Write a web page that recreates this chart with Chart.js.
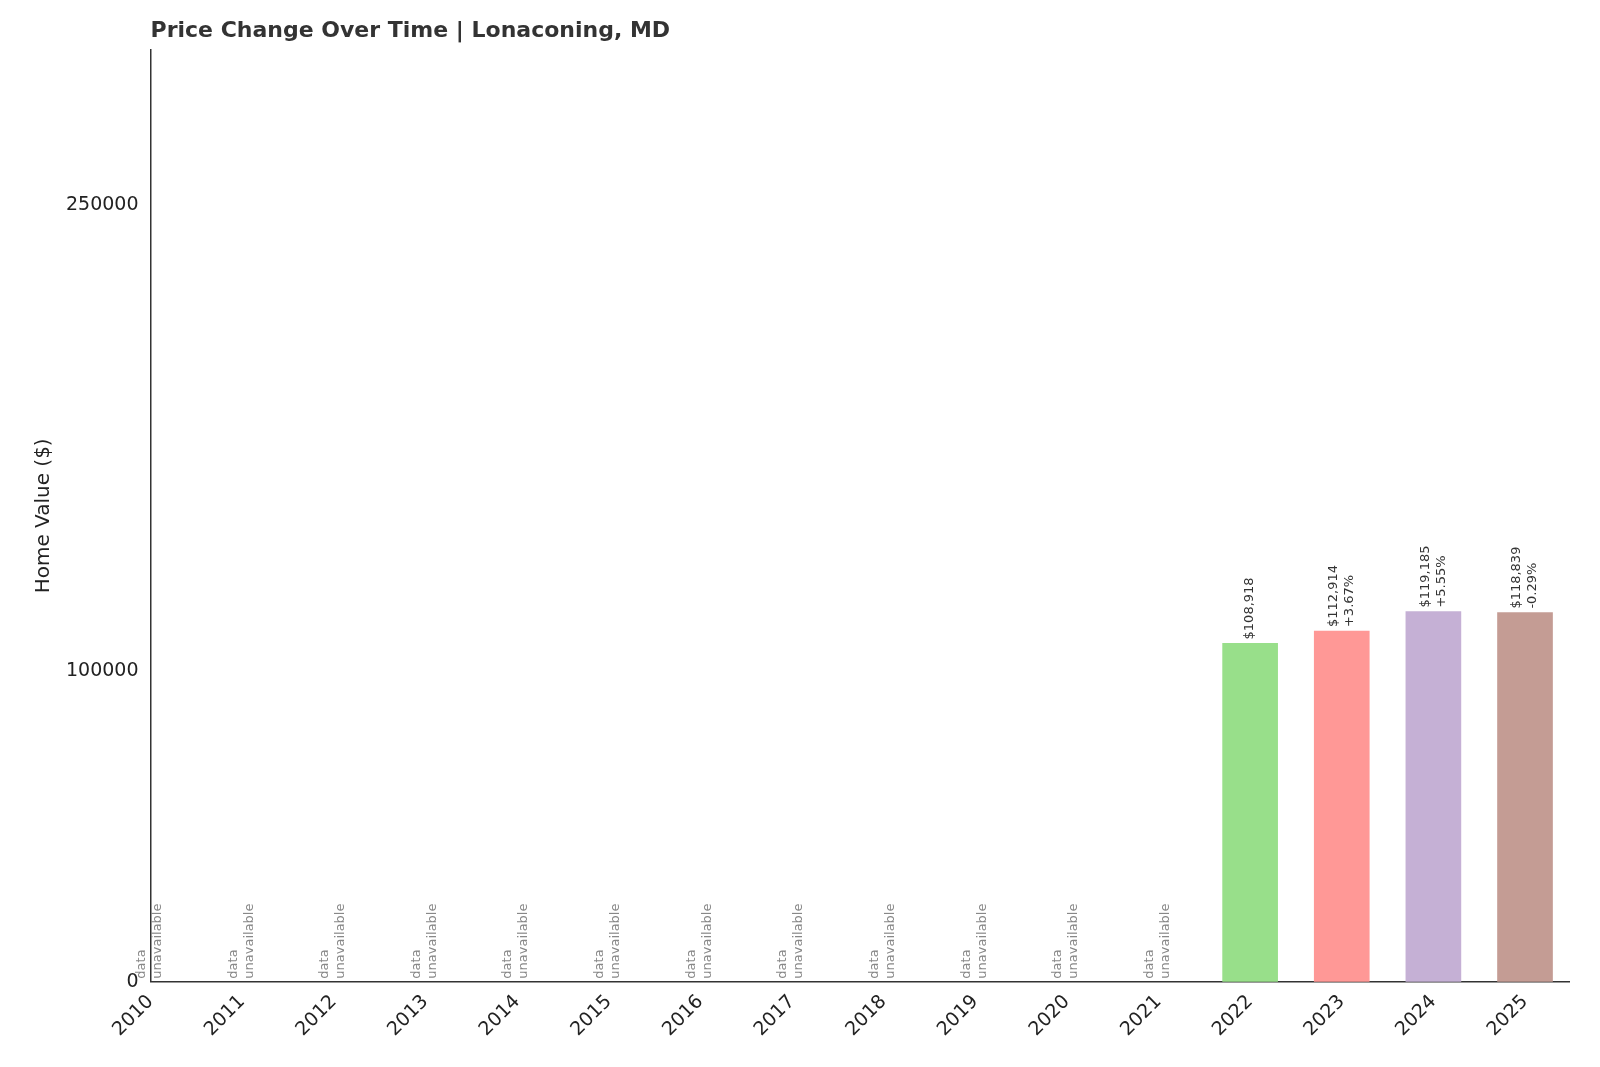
<!DOCTYPE html>
<html><head><meta charset="utf-8">
<script src="https://cdn.jsdelivr.net/npm/chart.js@4"></script>
<style>body{margin:0;background:#fff}#w{width:1600px;height:1067px}</style>
</head><body><div id="w"><canvas id="c"></canvas></div>
<script>
const years=[2010,2011,2012,2013,2014,2015,2016,2017,2018,2019,2020,2021,2022,2023,2024,2025];
const values=[null,null,null,null,null,null,null,null,null,null,null,null,108918,112914,119185,118839];
const changes=[null,null,null,null,null,null,null,null,null,null,null,null,null,"+3.67%","+5.55%","-0.29%"];
const barColors=["#98df8a","#98df8a","#98df8a","#98df8a","#98df8a","#98df8a","#98df8a","#98df8a","#98df8a","#98df8a","#98df8a","#98df8a","#98df8a","#ff9896","#c5b0d5","#c49c94"];
const yTicks=[0,100000,250000];
const F="DejaVu Sans";
const labels={id:'lbl',afterDatasetsDraw(ch){
  const c=ch.ctx,x=ch.scales.x,y=ch.scales.y;
  c.save();c.fillStyle='#333';c.font='bold 22px '+F;c.textAlign='left';c.textBaseline='middle';
  c.fillText('Price Change Over Time | Lonaconing, MD',ch.chartArea.left,31);c.restore();
  years.forEach((yr,i)=>{
    const px=x.getPixelForValue(yr);
    c.save();
    if(values[i]==null){
      c.fillStyle='#888';c.font='13px '+F;c.translate(px,y.getPixelForValue(0)-3);c.rotate(-Math.PI/2);
      c.textAlign='left';c.textBaseline='middle';
      c.fillText('data',0,-9);c.fillText('unavailable',0,7);
    }else{
      c.fillStyle='#333';c.font='13px '+F;c.translate(px,y.getPixelForValue(values[i])-4);c.rotate(-Math.PI/2);
      c.textAlign='left';c.textBaseline='middle';
      const t='$'+values[i].toLocaleString('en-US');
      if(changes[i]){c.fillText(t,0,-8);c.fillText(changes[i],0,8);}else c.fillText(t,0,0);
    }
    c.restore();
  });
}};
new Chart(document.getElementById('c'),{
  type:'bar',
  data:{datasets:[{data:years.map((yr,i)=>({x:yr,y:values[i]})),backgroundColor:barColors,barThickness:55}]},
  options:{responsive:true,maintainAspectRatio:false,animation:false,
    layout:{padding:{left:28,right:31,top:50,bottom:23}},
    plugins:{legend:{display:false},tooltip:{enabled:false},title:{display:false}},
    scales:{
      x:{type:'linear',min:2010,max:2025.48,offset:false,
        afterBuildTicks(s){s.ticks=years.map(v=>({value:v}));},
        ticks:{autoSkip:false,maxRotation:45,minRotation:45,color:'#222',font:{family:F,size:19},callback:v=>String(v)},
        grid:{display:false,drawTicks:true,tickLength:6,color:'#333'},border:{color:'#333',width:1.5}},
      y:{min:0,max:300000,
        afterBuildTicks(s){s.ticks=yTicks.map(v=>({value:v}));},
        ticks:{color:'#222',font:{family:F,size:19},padding:6,callback:v=>String(v)},
        title:{display:true,text:'Home Value ($)',color:'#222',font:{family:F,size:20}},
        grid:{display:false,tickLength:6},border:{color:'#333',width:1.5}}
    }}
  ,plugins:[labels]});
</script></body></html>
